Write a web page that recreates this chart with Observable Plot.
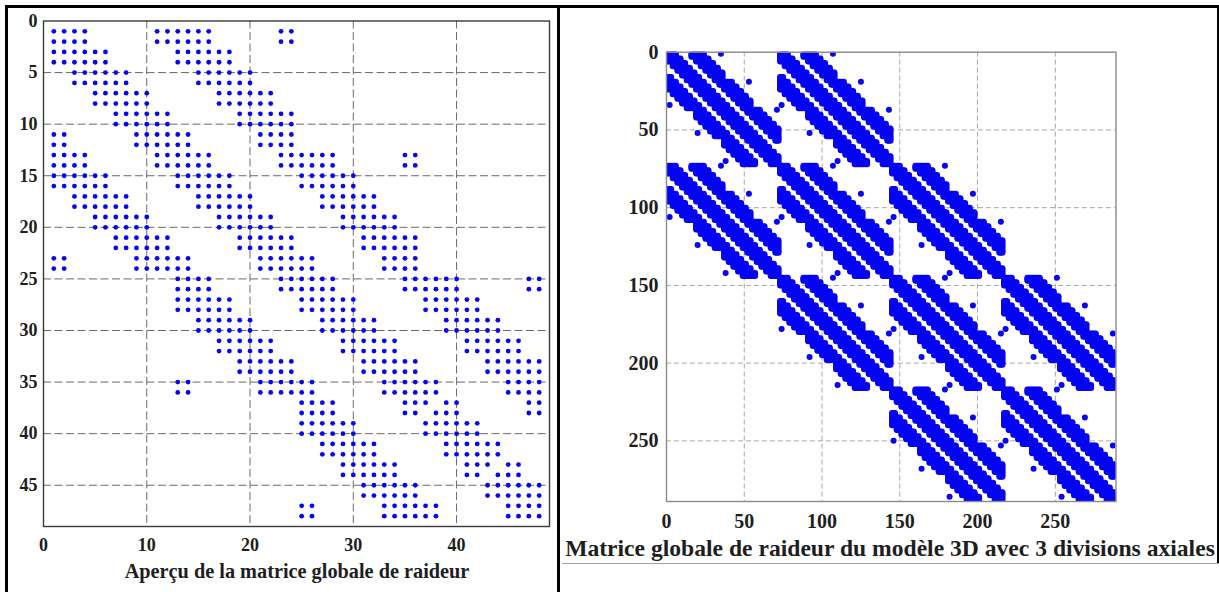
<!DOCTYPE html>
<html>
<head>
<meta charset="utf-8">
<script src="https://cdn.jsdelivr.net/npm/d3@7"></script>
<script src="https://cdn.jsdelivr.net/npm/@observablehq/plot@0.6"></script>
<style>
  html, body { margin: 0; padding: 0; background: #fff; }
  body { width: 1219px; height: 592px; overflow: hidden; position: relative;
         font-family: "Liberation Serif", "DejaVu Serif", serif; }
  .ln { position: absolute; background: #000; z-index: 5; }
  #left { position: absolute; left: 0; top: 0; }
  #right { position: absolute; left: 560px; top: 0; }
  .cap { position: absolute; font-weight: bold; white-space: nowrap; text-align: center; color: #1e1e1e; }
</style>
</head>
<body>
<div id="left"></div>
<div id="right"></div>
<div class="cap" id="capL" style="left:0;width:594px;top:560px;font-size:20.3px;line-height:22px;">Aperçu de la matrice globale de raideur</div>
<div class="cap" id="capR" style="left:560px;width:660px;top:536px;font-size:23.6px;line-height:25px;">Matrice globale de raideur du modèle 3D avec 3 divisions axiales</div>
<div class="ln" style="left:5px;top:5px;width:1214px;height:2.5px;"></div>
<div class="ln" style="left:5px;top:5px;width:2.5px;height:587px;"></div>
<div class="ln" style="left:557px;top:5px;width:3px;height:587px;"></div>
<div class="ln" style="left:1216.5px;top:5px;width:2.5px;height:558px;"></div>
<div class="ln" style="left:562px;top:563px;width:657px;height:1px;background:#a0a0a0;"></div>
<script>
// ---------- LEFT CHART: 48x48 matrix, 24 nodes x 2 DOF ----------
// Non-zero node blocks of each node row
const leftNeighbors = [
  [1,2,6,7,8,12],
  [1,2,3,7,8,9],
  [2,3,4,8,9,10],
  [3,4,5,9,10,11],
  [4,5,6,10,11,12],
  [1,5,6,7,11,12],
  [1,2,6,7,8,12,13,14,18],
  [1,2,3,7,8,9,13,14,15],
  [2,3,4,8,9,10,14,15,16],
  [3,4,5,9,10,11,15,16,17],
  [4,5,6,10,11,12,16,17,18],
  [1,5,6,7,11,12,13,17,18],
  [7,8,12,13,14,18,19,20,24],
  [7,8,9,13,14,15,19,20,21],
  [8,9,10,14,15,16,20,21,22],
  [9,10,11,15,16,17,21,22,23],
  [10,11,12,16,17,18,22,23,24],
  [7,11,12,13,17,18,19,23,24],
  [13,14,18,19,20,24],
  [13,14,15,19,20,21],
  [14,15,16,20,21,22],
  [15,16,17,21,22,23],
  [16,17,18,22,23,24],
  [13,17,18,19,23,24]
];
// nodes whose own 2x2 block only shows its diagonal
const leftDiagonalOnlyNodes = [19, 22];
const leftDof = 2;
const leftN = 48;
const leftXTicks = [0, 10, 20, 30, 40];
const leftYTicks = [0, 5, 10, 15, 20, 25, 30, 35, 40, 45];

// ---------- RIGHT CHART: 288x288, 4 sections x 24 nodes x 3 DOF ----------
const rightDof = 3;
const nodesPerSection = 24;
const rightN = 288;
// section blocks present (row section, column section)
const rightSectionBlocks = [[1,1],[1,2],[2,1],[2,2],[2,3],[3,2],[3,3],[3,4],[4,3],[4,4]];
// node pairs that only show a single isolated dot in each section block
const rightWrapPairs = [[1,12],[12,1],[7,18],[18,7],[13,24],[24,13]];
// position of those isolated dots inside a 72x72 section block (row, col)
const rightWrapDots = [[1,35],[34,2],[19,53],[52,20],[37,71],[70,38]];
const rightTicks = [0, 50, 100, 150, 200, 250];

// ---------- build entries ----------
const leftEntries = [];
leftNeighbors.forEach((nbrs, i) => {
  const a = i + 1;
  nbrs.forEach(b => {
    for (let di = 0; di < leftDof; di++) for (let dj = 0; dj < leftDof; dj++) {
      if (a === b && leftDiagonalOnlyNodes.includes(a) && di !== dj) continue;
      leftEntries.push({r: leftDof*(a-1)+di+1, c: leftDof*(b-1)+dj+1});
    }
  });
});

const isWrap = (a, b) => rightWrapPairs.some(p => p[0] === a && p[1] === b);
const rightEntries = [];
const secSize = nodesPerSection * rightDof;
rightSectionBlocks.forEach(([si, sj]) => {
  const r0 = secSize*(si-1), c0 = secSize*(sj-1);
  leftNeighbors.forEach((nbrs, i) => {
    const a = i + 1;
    nbrs.forEach(b => {
      if (isWrap(a, b)) return;
      for (let di = 0; di < rightDof; di++) for (let dj = 0; dj < rightDof; dj++)
        rightEntries.push({r: r0 + rightDof*(a-1)+di+1, c: c0 + rightDof*(b-1)+dj+1});
    });
  });
  rightWrapDots.forEach(([r, c]) => rightEntries.push({r: r0 + r, c: c0 + c}));
});

const fontFam = "'Liberation Serif', 'DejaVu Serif', serif";
const blue = "#0505f2";

const leftPlot = Plot.plot({
  width: 556, height: 556,
  marginLeft: 43, marginTop: 20.5, marginRight: 7, marginBottom: 30,
  x: {domain: [0, leftN + 1]},
  y: {domain: [0, leftN + 1], reverse: true},
  style: {background: "transparent", fontFamily: fontFam, color: "#1e1e1e", overflow: "visible"},
  marks: [
    Plot.gridX(leftXTicks.slice(1), {stroke: "#6a6a6a", strokeOpacity: 1, strokeWidth: 1, strokeDasharray: "8,3.5"}),
    Plot.gridY(leftYTicks.slice(1), {stroke: "#6a6a6a", strokeOpacity: 1, strokeWidth: 1, strokeDasharray: "8,3.5"}),
    Plot.dot(leftEntries, {x: "c", y: "r", r: 2.4, fill: blue}),
    Plot.frame({stroke: "#3a3a3a", strokeWidth: 1.4}),
    Plot.axisX(leftXTicks, {tickSize: 0, tickPadding: 12, fontSize: 18, fontWeight: "bold", label: null}),
    Plot.axisY(leftYTicks, {tickSize: 0, tickPadding: 6, fontSize: 18, fontWeight: "bold", label: null})
  ]
});
document.getElementById("left").appendChild(leftPlot);

const rightPlot = Plot.plot({
  width: 560, height: 536,
  marginLeft: 106, marginTop: 51.7, marginRight: 4.5, marginBottom: 35,
  x: {domain: [0, rightN + 1]},
  y: {domain: [0, rightN + 1], reverse: true},
  style: {background: "transparent", fontFamily: fontFam, color: "#1e1e1e", overflow: "visible"},
  marks: [
    Plot.gridX(rightTicks.slice(1), {stroke: "#a8a8a8", strokeOpacity: 1, strokeWidth: 1, strokeDasharray: "5,3"}),
    Plot.gridY(rightTicks.slice(1), {stroke: "#a8a8a8", strokeOpacity: 1, strokeWidth: 1, strokeDasharray: "5,3"}),
    Plot.dot(rightEntries, {x: "c", y: "r", r: 3, fill: blue, clip: true}),
    Plot.frame({stroke: "#8a8a8a", strokeWidth: 1.4}),
    Plot.axisX(rightTicks, {tickSize: 0, tickPadding: 12, fontSize: 20, fontWeight: "bold", label: null}),
    Plot.axisY(rightTicks, {tickSize: 0, tickPadding: 8, fontSize: 20, fontWeight: "bold", label: null})
  ]
});
document.getElementById("right").appendChild(rightPlot);
</script>
</body>
</html>
